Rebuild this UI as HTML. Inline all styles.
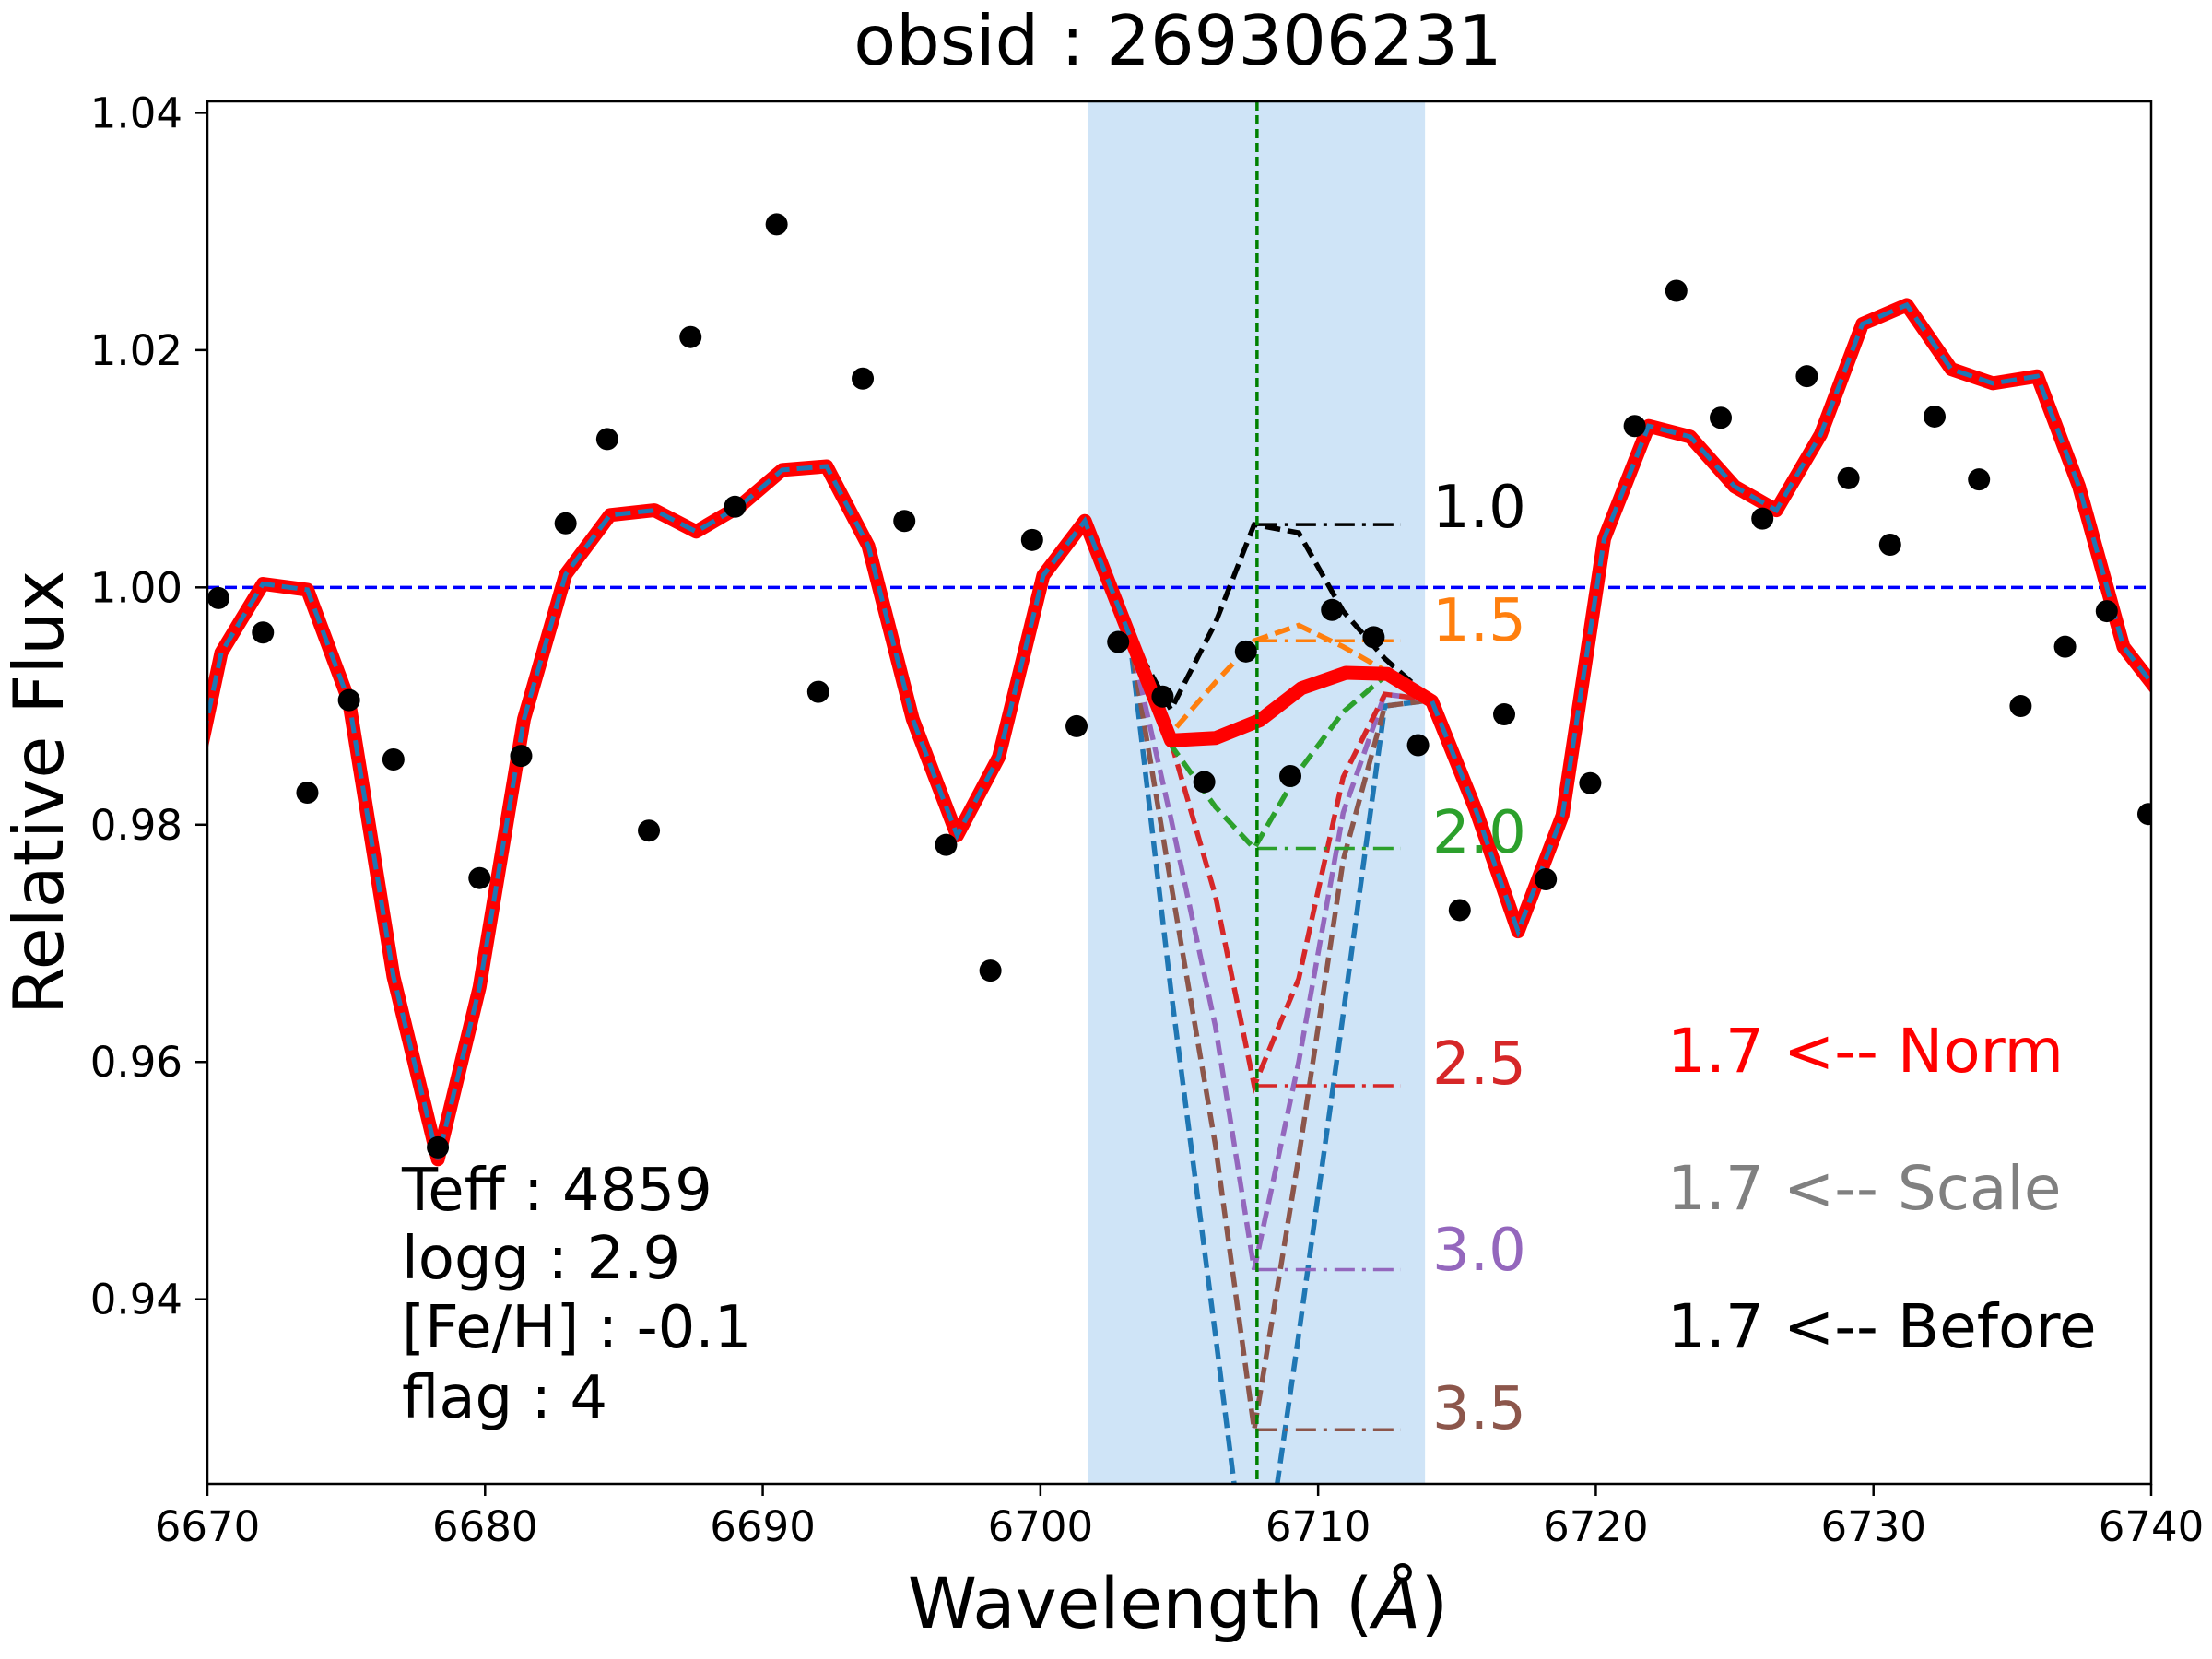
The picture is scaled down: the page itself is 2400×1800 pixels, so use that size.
<!DOCTYPE html>
<html><head><meta charset="utf-8"><style>
html,body{margin:0;padding:0;background:#fff}
svg{display:block}
text{font-family:"DejaVu Sans","Liberation Sans",sans-serif}
</style></head><body>
<svg id="chart" width="2400" height="1800" viewBox="0 0 2400 1800" xmlns="http://www.w3.org/2000/svg">
<defs><clipPath id="plotclip"><rect x="225" y="110" width="2109" height="1500"/></clipPath></defs>
<rect width="2400" height="1800" fill="#fff"/>
<g id="plot" clip-path="url(#plotclip)"></g>
<rect x="225" y="110" width="2109" height="1500" fill="none" stroke="#000" stroke-width="2.5"/>
<g id="ticks"></g>
<g id="labels"></g>
<text x="1278" y="70" font-size="75" text-anchor="middle">obsid : 269306231</text>
<text x="68" y="860" font-size="75" text-anchor="middle" transform="rotate(-90 68 860)">Relative Flux</text>
<text x="1278" y="1766" font-size="76" text-anchor="middle">Wavelength (<tspan font-style="italic">Å</tspan>)</text>
<g font-size="64">
<text x="436" y="1313">Teff : 4859</text>
<text x="436" y="1387">logg : 2.9</text>
<text x="436" y="1462">[Fe/H] : -0.1</text>
<text x="436" y="1538">flag : 4</text>
</g>
<g font-size="66">
<text x="1809" y="1163" fill="#ff0000">1.7 &lt;-- Norm</text>
<text x="1809" y="1312" fill="#808080">1.7 &lt;-- Scale</text>
<text x="1809" y="1462" fill="#000">1.7 &lt;-- Before</text>
</g>
</svg>
<script>
const obsWl=[6670.4,6672,6673.6,6675.1,6676.7,6678.3,6679.8,6681.3,6682.9,6684.4,6685.9,6687.4,6689,6690.5,6692,6693.6,6695.1,6696.6,6698.2,6699.7,6701.3,6702.8,6704.4,6705.9,6707.4,6709,6710.5,6712,6713.6,6715.1,6716.7,6718.2,6719.8,6721.4,6722.9,6724.5,6726,6727.6,6729.1,6730.6,6732.2,6733.8,6735.3,6736.9,6738.4,6739.9];
const obsFlux=[0.9991,0.9962,0.9827,0.9905,0.9855,0.9528,0.9755,0.9858,1.0054,1.0125,0.9795,1.0211,1.0068,1.0306,0.9912,1.0176,1.0056,0.9783,0.9677,1.004,0.9883,0.9954,0.9908,0.9836,0.9946,0.9841,0.9981,0.9958,0.9867,0.9728,0.9893,0.9754,0.9835,1.0136,1.025,1.0143,1.0058,1.0178,1.0092,1.0036,1.0144,1.0091,0.99,0.995,0.998,0.9809];
const modelWl=[6669,6670.5,6672,6673.6,6675.1,6676.7,6678.3,6679.8,6681.4,6682.9,6684.5,6686.1,6687.6,6689.2,6690.7,6692.3,6693.8,6695.4,6697,6698.5,6700.1,6701.6,6703.2,6704.7,6706.3,6707.9,6709.4,6711,6712.5,6714.1,6715.7,6717.2,6718.8,6720.3,6721.9,6723.4,6725,6726.5,6728.1,6729.6,6731.2,6732.8,6734.3,6735.9,6737.4,6739,6740.5];
const modelFlux=[0.978,0.9945,1.0003,0.9998,0.9904,0.9672,0.9518,0.9663,0.9889,1.0011,1.0061,1.0065,1.0047,1.0069,1.0099,1.0102,1.0035,0.9889,0.9791,0.9857,1.001,1.0056,0.996,0.9871,0.9873,0.9888,0.9915,0.9928,0.9927,0.9904,0.9811,0.971,0.9808,1.0041,1.0136,1.0127,1.0085,1.0065,1.0129,1.0222,1.0238,1.0184,1.0172,1.0178,1.0085,0.995,0.9905];
const altWl=[6703.2,6704.7,6706.3,6707.7,6709.3,6710.9,6712.4,6714.1];
const ab10=[0.996,0.9897,0.997,1.0053,1.0046,0.998,0.994,0.9905];
const ab15=[0.996,0.9877,0.992,0.9955,0.9968,0.995,0.993,0.9905];
const ab20=[0.996,0.9867,0.9815,0.978,0.9845,0.9895,0.9925,0.9905];
const ab25=[0.996,0.987,0.974,0.958,0.967,0.984,0.991,0.9905];
const ab30=[0.996,0.9805,0.963,0.9425,0.96,0.981,0.991,0.9905];
const ab35=[0.996,0.975,0.953,0.929,0.952,0.977,0.990,0.9905];
const ab40=[0.996,0.966,0.937,0.911,0.937,0.964,0.990,0.9905];
const abLabels=["1.0","1.5","2.0","2.5","3.0","3.5"];
const abLevels=[1.0053,0.9955,0.978,0.958,0.9425,0.929];
const xTicks=[6670,6680,6690,6700,6710,6720,6730,6740];
const yTicks=[0.94,0.96,0.98,1.00,1.02,1.04];
const lineCenter=6707.8, bandLo=6701.7, bandHi=6713.85;

const X=w=>225+(w-6670)/70*2109;
const Y=v=>122.4+(1.04-v)/0.1*1287.3;
const NS="http://www.w3.org/2000/svg";
const plot=document.getElementById('plot');
function mk(tag,attrs,parent){const e=document.createElementNS(NS,tag);for(const k in attrs)e.setAttribute(k,attrs[k]);parent.appendChild(e);return e;}
function pts(xs,ys){return xs.map((x,i)=>X(x).toFixed(1)+','+Y(ys[i]).toFixed(1)).join(' ');}

let band=mk('rect',{x:X(bandLo),y:110,width:X(bandHi)-X(bandLo),height:1500,fill:'#cfe4f7'},plot);



let cont=mk('line',{x1:225,x2:2334,y1:Y(1),y2:Y(1),stroke:'#0000ff','stroke-width':3.5,'stroke-dasharray':'13,6'},plot);



const series=[[ab40,'#1f77b4','model-a4.0'],[ab35,'#8c564b','model-a3.5'],[ab30,'#9467bd','model-a3.0'],[ab25,'#d62728','model-a2.5'],[ab20,'#2ca02c','model-a2.0'],[ab15,'#ff7f0e','model-a1.5'],[ab10,'#000000','model-a1.0']];
series.forEach(s=>{
  let p=mk('polyline',{points:pts(altWl,s[0]),fill:'none',stroke:s[1],'stroke-width':5.5,'stroke-dasharray':'17,8'},plot);
  
  
});
const lvlColors=['#000000','#ff7f0e','#2ca02c','#d62728','#9467bd','#8c564b'];
abLevels.forEach((v,i)=>{
  let l=mk('line',{x1:X(lineCenter),x2:1520,y1:Y(v),y2:Y(v),stroke:lvlColors[i],'stroke-width':3.5,'stroke-dasharray':'22,8,4,8'},plot);
  
  
});

let mr=mk('polyline',{points:pts(modelWl,modelFlux),fill:'none',stroke:'#ff0000','stroke-width':15,'stroke-linejoin':'round'},plot);


const pairs=modelWl.map((w,i)=>[w,modelFlux[i]]);
const left=pairs.filter(a=>a[0]<6703.5), right=pairs.filter(a=>a[0]>6713.5);
[left,right].forEach(seg=>{
  let b=mk('polyline',{points:pts(seg.map(a=>a[0]),seg.map(a=>a[1])),fill:'none',stroke:'#1f77b4','stroke-width':5,'stroke-dasharray':'17,8'},plot);
  
  
});

let vl=mk('line',{x1:X(lineCenter),x2:X(lineCenter),y1:110,y2:1610,stroke:'#008000','stroke-width':3.5,'stroke-dasharray':'10,5'},plot);



obsWl.forEach((w,i)=>{
  let c=mk('circle',{cx:X(w),cy:Y(obsFlux[i]),r:12,fill:'#000'},plot);
  
  
});

const labs=document.getElementById('labels');
const lblY=[572,695,925,1176,1378,1550];
abLabels.forEach((t,i)=>{
  let e=mk('text',{x:1554,y:lblY[i],'font-size':64,fill:lvlColors[i]},labs);
  e.textContent=t;
  
  
});

const tk=document.getElementById('ticks');
xTicks.forEach(t=>{
  let l=mk('line',{x1:X(t),x2:X(t),y1:1610,y2:1623,stroke:'#000','stroke-width':2.5},tk);
  
  
  let e=mk('text',{x:X(t),y:1672,'font-size':45,'text-anchor':'middle'},tk);
  e.textContent=t;
  
  
});
yTicks.forEach(t=>{
  let l=mk('line',{x1:212,x2:225,y1:Y(t),y2:Y(t),stroke:'#000','stroke-width':2.5},tk);
  
  
  let e=mk('text',{x:198,y:Y(t)+16,'font-size':45,'text-anchor':'end'},tk);
  e.textContent=t.toFixed(2);
  
  
});
</script>
</body></html>
